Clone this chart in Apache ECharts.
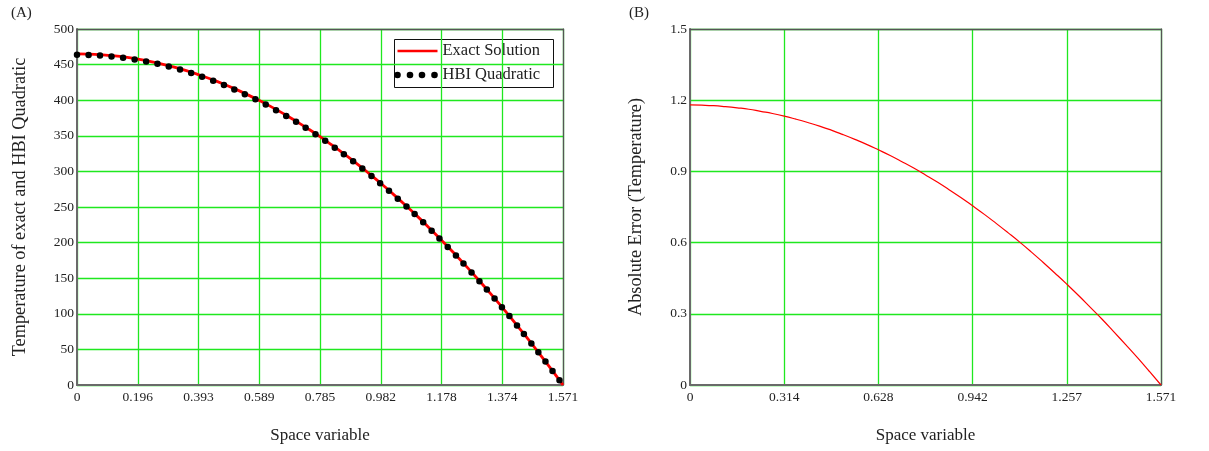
<!DOCTYPE html>
<html>
<head>
<meta charset="utf-8">
<script src="https://cdn.jsdelivr.net/npm/echarts@6/dist/echarts.min.js"></script>
<style>
  html, body { margin: 0; padding: 0; background: #fff; }
  #chart { width: 1209px; height: 451px; }
</style>
</head>
<body>
<div id="chart"></div>
<script>
// Space variable samples (0 .. pi/2)
const spaceVar = [0, 0.0393, 0.0785, 0.1178, 0.1571, 0.1963, 0.2356, 0.2749, 0.3142, 0.3534,
  0.3927, 0.4320, 0.4712, 0.5105, 0.5498, 0.5890, 0.6283, 0.6676, 0.7069, 0.7461,
  0.7854, 0.8247, 0.8639, 0.9032, 0.9425, 0.9817, 1.0210, 1.0603, 1.0996, 1.1388,
  1.1781, 1.2174, 1.2566, 1.2959, 1.3352, 1.3744, 1.4137, 1.4530, 1.4923, 1.5315, 1.5708];

// Exact temperature profile
const exactTemp = [465.0, 464.7, 463.8, 462.4, 460.4, 457.7, 454.5, 450.8, 446.4, 441.5,
  435.9, 429.8, 423.2, 415.9, 408.0, 399.6, 390.6, 381.0, 370.8, 360.1,
  348.8, 336.8, 324.3, 311.3, 297.6, 283.4, 268.5, 253.1, 237.2, 220.6,
  203.4, 185.7, 167.4, 148.5, 129.0, 109.0, 88.4, 67.1, 45.3, 23.0, 0.0];

// HBI quadratic approximation
const hbiTemp = [463.8, 463.5, 462.6, 461.2, 459.2, 456.5, 453.3, 449.7, 445.3, 440.4,
  434.8, 428.7, 422.1, 414.8, 407.0, 398.6, 389.6, 380.0, 369.9, 359.2,
  347.9, 335.9, 323.5, 310.5, 296.8, 282.7, 267.8, 252.5, 236.6, 220.0,
  202.9, 185.2, 167.0, 148.1, 128.7, 108.7, 88.2, 66.9, 45.2, 22.9, 0.0];

// Absolute error between the two
const absError = [1.180, 1.179, 1.177, 1.173, 1.168, 1.162, 1.153, 1.144, 1.133, 1.120,
  1.106, 1.091, 1.074, 1.055, 1.035, 1.014, 0.991, 0.967, 0.941, 0.914,
  0.885, 0.855, 0.823, 0.790, 0.755, 0.719, 0.681, 0.642, 0.602, 0.560,
  0.516, 0.471, 0.425, 0.377, 0.327, 0.277, 0.224, 0.170, 0.115, 0.058, 0.000];

// Tick labels
const xTicksA = ['0', '0.196', '0.393', '0.589', '0.785', '0.982', '1.178', '1.374', '1.571'];
const xTicksB = ['0', '0.314', '0.628', '0.942', '1.257', '1.571'];
const yTicksA = ['0', '50', '100', '150', '200', '250', '300', '350', '400', '450', '500'];
const yTicksB = ['0', '0.3', '0.6', '0.9', '1.2', '1.5'];

const HALF_PI = 1.5707963;
const xStepA = HALF_PI / (xTicksA.length - 1);
const xStepB = HALF_PI / (xTicksB.length - 1);

const font = 'Liberation Serif';
const gridGreen = '#1fe81f';
const frameGray = '#555';
const textColor = '#222';

function pairs(xs, ys) { return xs.map((x, i) => [x, ys[i]]); }
function tickFmt(labels, step) {
  return v => { const i = Math.round(v / step); return labels[i] !== undefined ? labels[i] : ''; };
}

function xAxis(gridIndex, step, labels) {
  return {
    type: 'value', gridIndex, min: 0, max: HALF_PI, interval: step,
    name: 'Space variable', nameLocation: 'middle', nameGap: 42,
    nameTextStyle: { fontFamily: font, fontSize: 17, color: textColor },
    axisLine: { show: true, onZero: false, lineStyle: { color: '#6a6a6a', width: 2 } },
    axisTick: { show: false },
    splitLine: { show: true, lineStyle: { color: gridGreen, width: 1.3 } },
    axisLabel: { fontFamily: font, fontSize: 13.5, color: textColor, margin: 5,
      formatter: tickFmt(labels, step), showMinLabel: true, showMaxLabel: true }
  };
}
function yAxis(gridIndex, max, step, labels, name, gap) {
  return {
    type: 'value', gridIndex, min: 0, max, interval: step,
    name, nameLocation: 'middle', nameGap: gap,
    nameTextStyle: { fontFamily: font, fontSize: 18.3, color: textColor },
    axisLine: { show: true, lineStyle: { color: '#6a6a6a', width: 2 } },
    axisTick: { show: false },
    splitLine: { show: true, lineStyle: { color: gridGreen, width: 1.3 } },
    axisLabel: { fontFamily: font, fontSize: 13.5, color: textColor, margin: 3,
      formatter: tickFmt(labels, step) }
  };
}
// Plain frame edges on the top and right of each plot
function frameX(gridIndex) {
  return { type: 'value', gridIndex, position: 'top', min: 0, max: HALF_PI,
    axisLine: { show: true, onZero: false, lineStyle: { color: frameGray, width: 1.3 } },
    axisTick: { show: false }, axisLabel: { show: false }, splitLine: { show: false } };
}
function frameY(gridIndex, max) {
  return { type: 'value', gridIndex, position: 'right', min: 0, max,
    axisLine: { show: true, onZero: false, lineStyle: { color: frameGray, width: 1.3 } },
    axisTick: { show: false }, axisLabel: { show: false }, splitLine: { show: false } };
}

const legendFont = { fontFamily: font, fontSize: 16.5, fill: textColor };

const chart = echarts.init(document.getElementById('chart'), null, { renderer: 'canvas' });
chart.setOption({
  animation: false,
  backgroundColor: '#fff',
  title: [
    { text: '(A)', left: 11, top: 6, padding: 0, textStyle: { fontFamily: font, fontSize: 15, fontWeight: 'normal', color: textColor } },
    { text: '(B)', left: 629, top: 6, padding: 0, textStyle: { fontFamily: font, fontSize: 15, fontWeight: 'normal', color: textColor } }
  ],
  grid: [
    { left: 77, right: 646, top: 29, bottom: 66 },
    { left: 690, right: 48, top: 29, bottom: 66 }
  ],
  // Legend box for plot (A)
  graphic: [{
    type: 'group', left: 394, top: 39, z: 100,
    children: [
      { type: 'rect', shape: { x: 0, y: 0, width: 159, height: 48 },
        style: { fill: '#fff', stroke: '#111', lineWidth: 1 } },
      { type: 'line', shape: { x1: 3, y1: 11.5, x2: 43, y2: 11.5 },
        style: { stroke: '#ff0000', lineWidth: 2.5 } },
      { type: 'text', x: 48, y: 11.5, style: Object.assign({ text: 'Exact Solution', verticalAlign: 'middle' }, legendFont) },
      { type: 'circle', shape: { cx: 3, cy: 35.5, r: 3.3 }, style: { fill: '#000' } },
      { type: 'circle', shape: { cx: 15.5, cy: 35.5, r: 3.3 }, style: { fill: '#000' } },
      { type: 'circle', shape: { cx: 27.5, cy: 35.5, r: 3.3 }, style: { fill: '#000' } },
      { type: 'circle', shape: { cx: 40, cy: 35.5, r: 3.3 }, style: { fill: '#000' } },
      { type: 'text', x: 48, y: 35.5, style: Object.assign({ text: 'HBI Quadratic', verticalAlign: 'middle' }, legendFont) }
    ]
  }],
  xAxis: [xAxis(0, xStepA, xTicksA), xAxis(1, xStepB, xTicksB), frameX(0), frameX(1)],
  yAxis: [
    yAxis(0, 500, 50, yTicksA, 'Temperature of exact and HBI Quadratic', 48),
    yAxis(1, 1.5, 0.3, yTicksB, 'Absolute Error (Temperature)', 45),
    frameY(0, 500), frameY(1, 1.5)
  ],
  series: [
    {
      name: 'Exact Solution', type: 'line', xAxisIndex: 0, yAxisIndex: 0,
      data: pairs(spaceVar, exactTemp), symbol: 'none', smooth: true,
      lineStyle: { color: '#ff0000', width: 2.8 }, z: 2
    },
    {
      name: 'HBI Quadratic', type: 'line', xAxisIndex: 0, yAxisIndex: 0,
      data: pairs(spaceVar, hbiTemp), symbol: 'none', smooth: true,
      lineStyle: { color: '#000', width: 6.5, type: [0, 11.6], cap: 'round' }, z: 3
    },
    {
      name: 'Absolute Error', type: 'line', xAxisIndex: 1, yAxisIndex: 1,
      data: pairs(spaceVar, absError), symbol: 'none', smooth: true,
      lineStyle: { color: '#ff0000', width: 1.2 }, z: 2
    }
  ]
});
</script>
</body>
</html>
